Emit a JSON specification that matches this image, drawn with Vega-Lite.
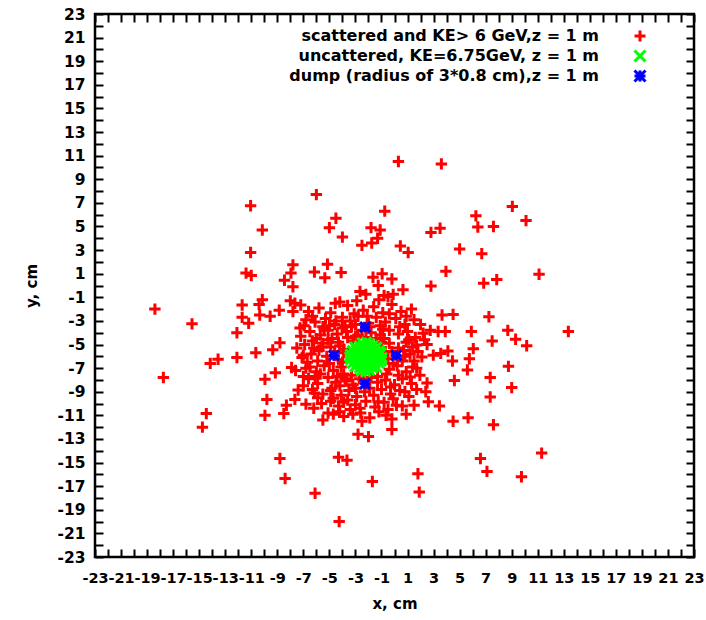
{
  "$schema": "https://vega.github.io/schema/vega-lite/v6.json",
  "width": 599,
  "height": 543,
  "autosize": {"type": "none"},
  "padding": {"left": 95, "top": 14, "right": 12, "bottom": 63},
  "background": "white",
  "config": {
    "view": {"stroke": "black", "strokeWidth": 2.5},
    "axis": {
      "grid": false,
      "domain": false,
      "tickColor": "black",
      "tickWidth": 2,
      "tickSize": -8,
      "labelFont": "DejaVu Sans",
      "labelFontSize": 15.5,
      "labelFontWeight": "bold",
      "labelColor": "black",
      "labelOverlap": false,
      "labelFlush": false,
      "labelBound": false,
      "titleFont": "DejaVu Sans",
      "titleFontSize": 15,
      "titleFontWeight": "bold",
      "titleColor": "black"
    },
    "legend": {
      "orient": "none",
      "legendX": 537,
      "legendY": 14,
      "padding": 0,
      "labelAlign": "right",
      "labelOffset": -49,
      "labelFont": "DejaVu Sans",
      "labelFontSize": 16,
      "labelFontWeight": "bold",
      "labelColor": "black",
      "labelLimit": 500,
      "symbolSize": 121,
      "symbolStrokeWidth": 3
    }
  },
  "datasets": {
    "scattered": [
      {"x": 0.3, "y": 10.5}, {"x": 3.6, "y": 10.3}, {"x": 9.05, "y": 6.7}, {"x": 10.1, "y": 5.5},
      {"x": -6.0, "y": 7.7}, {"x": -0.75, "y": 6.3}, {"x": -4.5, "y": 5.7}, {"x": -5.0, "y": 4.9},
      {"x": -4.0, "y": 4.1}, {"x": -1.8, "y": 4.9}, {"x": -1.1, "y": 4.7}, {"x": -1.3, "y": 4.0},
      {"x": -1.75, "y": 3.6}, {"x": -2.5, "y": 3.4}, {"x": 0.45, "y": 3.35}, {"x": 1.05, "y": 2.8},
      {"x": 2.8, "y": 4.5}, {"x": 3.5, "y": 4.85}, {"x": 6.25, "y": 5.9}, {"x": 6.4, "y": 4.95},
      {"x": 7.6, "y": 5.0}, {"x": 5.0, "y": 3.1}, {"x": 6.7, "y": 2.7}, {"x": 11.1, "y": 0.95},
      {"x": 3.95, "y": 1.2}, {"x": 6.85, "y": 0.2}, {"x": 7.85, "y": 0.5}, {"x": 2.8, "y": -0.05},
      {"x": -5.15, "y": 1.8}, {"x": -5.35, "y": 0.65}, {"x": -4.1, "y": 1.1}, {"x": -1.65, "y": 0.7},
      {"x": -0.95, "y": 1.0}, {"x": -0.2, "y": 0.55}, {"x": -1.25, "y": 0.0}, {"x": 0.65, "y": -0.35},
      {"x": 4.5, "y": -2.45}, {"x": 7.25, "y": -2.65}, {"x": 5.9, "y": -3.9}, {"x": 8.7, "y": -3.8},
      {"x": 7.5, "y": -4.7}, {"x": 9.3, "y": -4.55}, {"x": 10.15, "y": -5.1}, {"x": -4.55, "y": -1.5},
      {"x": -2.65, "y": -0.5}, {"x": -2.2, "y": -0.75}, {"x": -0.8, "y": -0.85}, {"x": -0.1, "y": -0.75},
      {"x": 2.75, "y": -3.8}, {"x": 3.35, "y": -3.9}, {"x": 3.9, "y": -3.9}, {"x": 2.2, "y": -4.05},
      {"x": -11.05, "y": 6.75}, {"x": -10.15, "y": 4.7}, {"x": -11.05, "y": 2.8}, {"x": -11.4, "y": 1.05},
      {"x": -11.0, "y": 0.85}, {"x": -7.8, "y": 1.75}, {"x": -7.95, "y": 1.05}, {"x": -6.15, "y": 1.15},
      {"x": -8.45, "y": 0.45}, {"x": -7.8, "y": -0.1}, {"x": -10.15, "y": -1.2}, {"x": -10.4, "y": -1.6},
      {"x": -11.7, "y": -1.65}, {"x": -8.0, "y": -1.3}, {"x": -7.2, "y": -1.65}, {"x": -8.85, "y": -2.1},
      {"x": -9.55, "y": -2.6}, {"x": -10.35, "y": -2.5}, {"x": -11.7, "y": -2.7}, {"x": -11.2, "y": -3.2},
      {"x": -7.8, "y": -2.2}, {"x": -6.3, "y": -2.6}, {"x": -18.4, "y": -2.0}, {"x": -15.55, "y": -3.25},
      {"x": -12.1, "y": -4.0}, {"x": -6.95, "y": -3.4}, {"x": -8.8, "y": -4.85}, {"x": -5.5, "y": -3.5},
      {"x": -14.15, "y": -6.6}, {"x": -13.55, "y": -6.25}, {"x": -12.1, "y": -6.1}, {"x": -10.65, "y": -5.7},
      {"x": -9.35, "y": -5.45}, {"x": -17.75, "y": -7.8}, {"x": -9.95, "y": -7.95}, {"x": -9.15, "y": -7.4},
      {"x": -7.9, "y": -6.95}, {"x": -9.8, "y": -9.65}, {"x": -9.95, "y": -11.0}, {"x": -8.5, "y": -10.85},
      {"x": -8.3, "y": -10.15}, {"x": -7.65, "y": -9.65}, {"x": -6.8, "y": -10.05}, {"x": -7.4, "y": -8.85},
      {"x": -6.15, "y": -9.1}, {"x": -14.45, "y": -10.85}, {"x": -14.75, "y": -12.0}, {"x": -8.8, "y": -14.65},
      {"x": -8.4, "y": -16.35}, {"x": -6.1, "y": -17.6}, {"x": -7.0, "y": -5.9}, {"x": -7.0, "y": -7.7},
      {"x": 8.75, "y": -6.85}, {"x": 7.35, "y": -7.8}, {"x": 9.0, "y": -8.65}, {"x": 7.35, "y": -9.45},
      {"x": 7.6, "y": -11.8}, {"x": 5.65, "y": -11.2}, {"x": 4.5, "y": -11.5}, {"x": 4.6, "y": -8.05},
      {"x": 5.6, "y": -7.15}, {"x": 5.75, "y": -6.2}, {"x": 6.05, "y": -5.35}, {"x": 4.45, "y": -6.4},
      {"x": 4.1, "y": -5.55}, {"x": 3.55, "y": -5.75}, {"x": 11.3, "y": -14.2}, {"x": 9.75, "y": -16.2},
      {"x": 6.6, "y": -14.65}, {"x": 7.1, "y": -15.75}, {"x": 1.8, "y": -15.95}, {"x": 1.9, "y": -17.5},
      {"x": -1.7, "y": -16.6}, {"x": -4.25, "y": -20.0}, {"x": -4.3, "y": -14.55}, {"x": -3.65, "y": -14.8},
      {"x": -2.8, "y": -12.6}, {"x": -2.0, "y": -12.8}, {"x": -0.2, "y": -12.2}, {"x": -2.5, "y": -11.5},
      {"x": -0.65, "y": -11.0}, {"x": -4.7, "y": -10.9}, {"x": -4.2, "y": -10.7}, {"x": 1.5, "y": -10.15},
      {"x": 3.45, "y": -10.2}, {"x": 2.6, "y": -9.85}, {"x": 2.4, "y": -9.0}, {"x": 2.5, "y": -8.25},
      {"x": 1.95, "y": -7.6}, {"x": 1.2, "y": -7.75}, {"x": 0.8, "y": -9.0}, {"x": 0.15, "y": -10.15},
      {"x": -1.25, "y": -9.85}, {"x": -2.65, "y": -10.4}, {"x": -4.7, "y": -9.55}, {"x": 1.7, "y": -5.05},
      {"x": 2.1, "y": -6.05}, {"x": 13.35, "y": -3.9}, {"x": 3.65, "y": -2.5}, {"x": 2.98, "y": -5.9},
      {"x": 1.7, "y": -7.0}, {"x": -7.65, "y": -1.5}, {"x": -7.25, "y": -3.6}, {"x": -0.5, "y": -0.95},
      {"x": -5.8, "y": -1.9}, {"x": -4.9, "y": -2.3}, {"x": -3.6, "y": -1.7}, {"x": -3.1, "y": -2.4},
      {"x": -2.4, "y": -2.1}, {"x": -1.6, "y": -1.8}, {"x": -0.9, "y": -2.3}, {"x": -0.2, "y": -1.6},
      {"x": 0.5, "y": -2.2}, {"x": -6.6, "y": -2.2}, {"x": -4.2, "y": -1.4}, {"x": -1.2, "y": -1.2},
      {"x": 1.3, "y": -2.0}, {"x": -2.9, "y": -1.3}, {"x": -6.1, "y": -3.1}, {"x": -5.3, "y": -2.8},
      {"x": -4.6, "y": -3.3}, {"x": -4.0, "y": -2.7}, {"x": -3.4, "y": -3.0}, {"x": -2.8, "y": -2.6},
      {"x": -2.0, "y": -3.2}, {"x": -1.4, "y": -2.7}, {"x": -0.7, "y": -3.1}, {"x": 0.1, "y": -2.8},
      {"x": 0.8, "y": -3.3}, {"x": 1.5, "y": -2.9}, {"x": -5.0, "y": -3.4}, {"x": -3.8, "y": -3.4},
      {"x": -1.1, "y": -3.4}, {"x": 0.4, "y": -3.5}, {"x": -6.8, "y": -2.9}, {"x": 2.0, "y": -3.3},
      {"x": -6.5, "y": -3.9}, {"x": -5.7, "y": -4.2}, {"x": -5.1, "y": -3.8}, {"x": -4.4, "y": -4.1},
      {"x": -3.7, "y": -3.9}, {"x": -3.0, "y": -4.3}, {"x": -2.5, "y": -3.8}, {"x": -1.8, "y": -4.0},
      {"x": -1.1, "y": -4.2}, {"x": -0.4, "y": -3.8}, {"x": 0.3, "y": -4.1}, {"x": 1.0, "y": -3.9},
      {"x": 1.6, "y": -4.4}, {"x": -6.0, "y": -4.5}, {"x": -4.8, "y": -4.5}, {"x": -0.8, "y": -4.5},
      {"x": 2.3, "y": -4.6}, {"x": -7.2, "y": -4.3}, {"x": -6.9, "y": -5.0}, {"x": -6.2, "y": -5.3},
      {"x": -5.5, "y": -4.9}, {"x": -4.9, "y": -5.2}, {"x": -4.3, "y": -4.8}, {"x": -3.9, "y": -5.4},
      {"x": -0.4, "y": -4.9}, {"x": 0.3, "y": -5.3}, {"x": 0.9, "y": -4.8}, {"x": 1.4, "y": -5.2},
      {"x": -5.8, "y": -5.5}, {"x": 0.7, "y": -5.5}, {"x": 2.5, "y": -5.0}, {"x": -7.5, "y": -5.3},
      {"x": 1.1, "y": -4.6}, {"x": -7.1, "y": -6.1}, {"x": -6.4, "y": -5.8}, {"x": -5.9, "y": -6.4},
      {"x": -5.2, "y": -6.0}, {"x": -4.3, "y": -6.3}, {"x": -3.9, "y": -5.7}, {"x": -0.5, "y": -6.2},
      {"x": 0.6, "y": -6.4}, {"x": 1.2, "y": -5.8}, {"x": -6.7, "y": -6.5}, {"x": 1.5, "y": -6.4},
      {"x": -4.0, "y": -6.5}, {"x": -0.7, "y": -5.6}, {"x": -6.8, "y": -7.0}, {"x": -6.0, "y": -7.3},
      {"x": -5.4, "y": -6.8}, {"x": -4.7, "y": -7.2}, {"x": -4.1, "y": -6.9}, {"x": -0.4, "y": -7.1},
      {"x": 0.2, "y": -6.8}, {"x": 0.9, "y": -7.3}, {"x": 1.4, "y": -6.9}, {"x": -5.7, "y": -7.5},
      {"x": -3.9, "y": -7.5}, {"x": -0.6, "y": -7.5}, {"x": -7.6, "y": -7.2}, {"x": -6.6, "y": -7.9},
      {"x": -5.9, "y": -8.3}, {"x": -5.1, "y": -7.8}, {"x": -4.5, "y": -8.2}, {"x": -3.8, "y": -7.9},
      {"x": -3.2, "y": -8.4}, {"x": -2.7, "y": -7.9}, {"x": -1.8, "y": -7.8}, {"x": -1.3, "y": -8.2},
      {"x": -0.7, "y": -8.0}, {"x": 0.0, "y": -8.4}, {"x": 0.6, "y": -7.9}, {"x": 1.3, "y": -8.3},
      {"x": -7.0, "y": -8.5}, {"x": -4.2, "y": -8.5}, {"x": -0.3, "y": -8.6}, {"x": -6.3, "y": -8.8},
      {"x": -5.5, "y": -9.2}, {"x": -4.8, "y": -8.7}, {"x": -4.1, "y": -9.3}, {"x": -3.5, "y": -8.9},
      {"x": -2.9, "y": -9.4}, {"x": -2.3, "y": -9.0}, {"x": -1.6, "y": -9.3}, {"x": -1.0, "y": -8.8},
      {"x": -0.3, "y": -9.2}, {"x": 0.4, "y": -8.9}, {"x": 1.1, "y": -9.4}, {"x": -5.9, "y": -9.5},
      {"x": -3.0, "y": -8.7}, {"x": -1.9, "y": -8.7}, {"x": -5.6, "y": -10.0}, {"x": -4.9, "y": -9.8},
      {"x": -4.3, "y": -10.2}, {"x": -3.6, "y": -9.7}, {"x": -3.0, "y": -10.1}, {"x": -2.2, "y": -9.8},
      {"x": -1.5, "y": -10.3}, {"x": -0.8, "y": -9.9}, {"x": -0.1, "y": -9.6}, {"x": 0.6, "y": -10.2},
      {"x": -6.2, "y": -10.4}, {"x": -3.4, "y": -10.5}, {"x": -5.1, "y": -10.8}, {"x": -3.9, "y": -11.1},
      {"x": -3.2, "y": -10.9}, {"x": -1.9, "y": -11.2}, {"x": -1.2, "y": -10.7}, {"x": -0.2, "y": -11.3},
      {"x": 0.9, "y": -10.9}, {"x": -5.5, "y": -11.4}, {"x": -4.6, "y": -5.6}, {"x": -4.2, "y": -5.1},
      {"x": -3.6, "y": -4.4}, {"x": -3.2, "y": -4.7}, {"x": -1.0, "y": -4.8}, {"x": -0.2, "y": -5.6},
      {"x": -0.1, "y": -6.6}, {"x": -3.3, "y": -7.6}, {"x": -2.4, "y": -8.0}, {"x": -1.3, "y": -7.7},
      {"x": -1.4, "y": -4.5}, {"x": -2.8, "y": -4.2}, {"x": -3.7, "y": -8.1}, {"x": -2.2, "y": -4.4},
      {"x": -5.4, "y": -3.7}, {"x": -4.5, "y": -3.0}, {"x": -3.3, "y": -3.5}, {"x": -2.1, "y": -2.6},
      {"x": -0.4, "y": -2.4}, {"x": 0.9, "y": -2.6}, {"x": -6.3, "y": -4.7}, {"x": -5.1, "y": -4.6},
      {"x": 1.8, "y": -5.6}, {"x": 1.7, "y": -8.8}, {"x": -6.5, "y": -6.9}, {"x": -5.0, "y": -6.6},
      {"x": -5.6, "y": -5.2}, {"x": -4.9, "y": -8.9}, {"x": -3.9, "y": -9.9}, {"x": -2.6, "y": -10.8},
      {"x": -0.5, "y": -10.5}, {"x": 0.3, "y": -7.6}, {"x": 0.8, "y": -6.0}, {"x": -6.1, "y": -7.7},
      {"x": -4.4, "y": -7.7}, {"x": -1.9, "y": -3.5}, {"x": -0.9, "y": -3.7}, {"x": -3.0, "y": -3.3},
      {"x": -4.0, "y": -3.6}
    ],
    "uncattered": [
      {"x": -2.5, "y": -4.85}, {"x": -2.15, "y": -4.8}, {"x": -1.9, "y": -4.9},
      {"x": -3.05, "y": -5.2}, {"x": -2.7, "y": -5.1}, {"x": -2.35, "y": -5.15}, {"x": -2.0, "y": -5.2},
      {"x": -1.65, "y": -5.1}, {"x": -1.35, "y": -5.2},
      {"x": -3.25, "y": -5.5}, {"x": -2.9, "y": -5.4}, {"x": -2.55, "y": -5.45}, {"x": -2.2, "y": -5.5},
      {"x": -1.85, "y": -5.4}, {"x": -1.5, "y": -5.45}, {"x": -1.15, "y": -5.5},
      {"x": -3.4, "y": -5.8}, {"x": -3.05, "y": -5.7}, {"x": -2.7, "y": -5.75}, {"x": -2.35, "y": -5.8},
      {"x": -2.0, "y": -5.7}, {"x": -1.65, "y": -5.75}, {"x": -1.3, "y": -5.8}, {"x": -1.0, "y": -5.7},
      {"x": -3.45, "y": -6.05}, {"x": -3.1, "y": -6.1}, {"x": -2.75, "y": -6.0}, {"x": -2.4, "y": -6.05},
      {"x": -2.05, "y": -6.1}, {"x": -1.7, "y": -6.0}, {"x": -1.35, "y": -6.05}, {"x": -0.95, "y": -6.1},
      {"x": -3.4, "y": -6.3}, {"x": -3.05, "y": -6.4}, {"x": -2.7, "y": -6.35}, {"x": -2.35, "y": -6.3},
      {"x": -2.0, "y": -6.4}, {"x": -1.65, "y": -6.35}, {"x": -1.3, "y": -6.3}, {"x": -1.0, "y": -6.4},
      {"x": -3.25, "y": -6.6}, {"x": -2.9, "y": -6.7}, {"x": -2.55, "y": -6.65}, {"x": -2.2, "y": -6.6},
      {"x": -1.85, "y": -6.7}, {"x": -1.5, "y": -6.65}, {"x": -1.15, "y": -6.6},
      {"x": -3.05, "y": -6.9}, {"x": -2.7, "y": -7.0}, {"x": -2.35, "y": -6.95}, {"x": -2.0, "y": -6.9},
      {"x": -1.65, "y": -7.0}, {"x": -1.35, "y": -6.95},
      {"x": -2.55, "y": -7.25}, {"x": -2.2, "y": -7.3}, {"x": -1.9, "y": -7.2}
    ],
    "dump": [
      {"x": -2.26, "y": -3.53}, {"x": -4.66, "y": -5.93}, {"x": 0.14, "y": -5.93}, {"x": -2.26, "y": -8.33}
    ]
  },
  "layer": [
    {
      "data": {"name": "scattered"},
      "transform": [{"calculate": "'scattered and KE> 6 GeV,z = 1 m'", "as": "series"}],
      "mark": {"type": "point", "filled": false, "size": 130, "strokeWidth": 3, "opacity": 1},
      "encoding": {
        "x": {
          "field": "x", "type": "quantitative",
          "scale": {"domain": [-23, 23], "nice": false, "zero": false},
          "axis": {
            "orient": "bottom",
            "title": "x, cm",
            "titlePadding": 12,
            "labelPadding": 22,
            "labelFontSize": 14.5,
            "values": [-23, -22, -21, -20, -19, -18, -17, -16, -15, -14, -13, -12, -11, -10, -9, -8, -7, -6, -5, -4, -3, -2, -1, 0, 1, 2, 3, 4, 5, 6, 7, 8, 9, 10, 11, 12, 13, 14, 15, 16, 17, 18, 19, 20, 21, 22, 23],
            "labelExpr": "datum.value % 2 != 0 ? '' + datum.value : ''",
            "encode": {"ticks": {"update": {"y2": {"signal": "datum.value % 2 != 0 ? -8 : -4"}}}}
          }
        },
        "y": {
          "field": "y", "type": "quantitative",
          "scale": {"domain": [-23, 23], "nice": false, "zero": false},
          "axis": {
            "orient": "left",
            "title": "y, cm",
            "titlePadding": 17,
            "labelPadding": 18,
            "values": [-23, -22, -21, -20, -19, -18, -17, -16, -15, -14, -13, -12, -11, -10, -9, -8, -7, -6, -5, -4, -3, -2, -1, 0, 1, 2, 3, 4, 5, 6, 7, 8, 9, 10, 11, 12, 13, 14, 15, 16, 17, 18, 19, 20, 21, 22, 23],
            "labelExpr": "datum.value % 2 != 0 ? '' + datum.value : ''",
            "encode": {"ticks": {"update": {"x2": {"signal": "datum.value % 2 != 0 ? 8 : 4"}}}}
          }
        },
        "color": {
          "field": "series", "type": "nominal",
          "scale": {
            "domain": ["scattered and KE> 6 GeV,z = 1 m", "uncattered, KE=6.75GeV, z = 1 m", "dump (radius of 3*0.8 cm),z = 1 m"],
            "range": ["#ff0000", "#00ff00", "#0000ff"]
          },
          "legend": {"title": null, "rowPadding": -4}
        },
        "shape": {
          "field": "series", "type": "nominal",
          "scale": {
            "domain": ["scattered and KE> 6 GeV,z = 1 m", "uncattered, KE=6.75GeV, z = 1 m", "dump (radius of 3*0.8 cm),z = 1 m"],
            "range": ["M-1,0L1,0M0,-1L0,1", "M-1,-1L1,1M-1,1L1,-1", "M-1,0L1,0M0,-1L0,1M-1,-1L1,1M-1,1L1,-1"]
          },
          "legend": {"title": null, "rowPadding": -4}
        }
      }
    },
    {
      "data": {"name": "uncattered"},
      "transform": [{"calculate": "'uncattered, KE=6.75GeV, z = 1 m'", "as": "series"}],
      "mark": {"type": "point", "filled": false, "size": 90, "strokeWidth": 3, "opacity": 1},
      "encoding": {
        "x": {
          "field": "x", "type": "quantitative",
          "axis": {
            "orient": "top",
            "title": null,
            "labels": false,
            "values": [-23, -22, -21, -20, -19, -18, -17, -16, -15, -14, -13, -12, -11, -10, -9, -8, -7, -6, -5, -4, -3, -2, -1, 0, 1, 2, 3, 4, 5, 6, 7, 8, 9, 10, 11, 12, 13, 14, 15, 16, 17, 18, 19, 20, 21, 22, 23],
            "encode": {"ticks": {"update": {"y2": {"signal": "datum.value % 2 != 0 ? 8 : 4"}}}}
          }
        },
        "y": {
          "field": "y", "type": "quantitative",
          "axis": {
            "orient": "right",
            "title": null,
            "labels": false,
            "values": [-23, -22, -21, -20, -19, -18, -17, -16, -15, -14, -13, -12, -11, -10, -9, -8, -7, -6, -5, -4, -3, -2, -1, 0, 1, 2, 3, 4, 5, 6, 7, 8, 9, 10, 11, 12, 13, 14, 15, 16, 17, 18, 19, 20, 21, 22, 23],
            "encode": {"ticks": {"update": {"x2": {"signal": "datum.value % 2 != 0 ? -8 : -4"}}}}
          }
        },
        "color": {"field": "series", "type": "nominal"},
        "shape": {"field": "series", "type": "nominal"}
      }
    },
    {
      "data": {"name": "dump"},
      "transform": [{"calculate": "'dump (radius of 3*0.8 cm),z = 1 m'", "as": "series"}],
      "mark": {"type": "point", "filled": false, "size": 100, "strokeWidth": 3, "opacity": 1},
      "encoding": {
        "x": {"field": "x", "type": "quantitative", "axis": null},
        "y": {"field": "y", "type": "quantitative", "axis": null},
        "color": {"field": "series", "type": "nominal"},
        "shape": {"field": "series", "type": "nominal"}
      }
    }
  ],
  "resolve": {"axis": {"x": "independent", "y": "independent"}}
}
